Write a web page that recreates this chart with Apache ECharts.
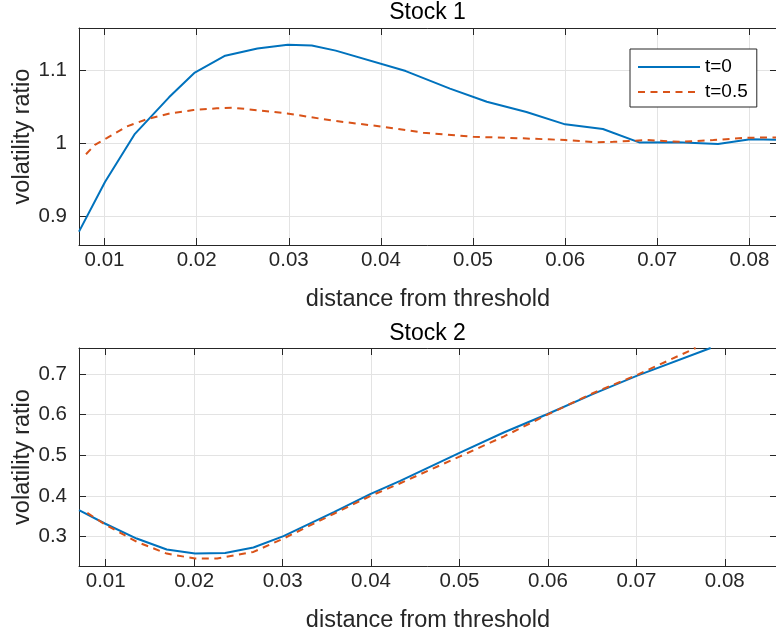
<!DOCTYPE html>
<html>
<head>
<meta charset="utf-8">
<script src="https://cdn.jsdelivr.net/npm/echarts@6/dist/echarts.min.js"></script>
<style>
  html, body { margin: 0; padding: 0; background: #fff; }
  #chart { width: 776px; height: 637px; }
</style>
</head>
<body>
<div id="chart"></div>
<script>
// Stock 1: volatility ratio vs distance from threshold
const s1T0X   = [0.00723, 0.01005, 0.0133, 0.0170, 0.0198, 0.0231, 0.0266, 0.0299, 0.0325, 0.0351,
                 0.0427, 0.0475, 0.0515, 0.0558, 0.0600, 0.0641, 0.0681, 0.0722, 0.0766, 0.0801, 0.0830];
const s1T0Y   = [0.879, 0.947, 1.013, 1.063, 1.097, 1.120, 1.130, 1.135, 1.134, 1.127,
                 1.099, 1.075, 1.057, 1.043, 1.026, 1.0196, 1.001, 1.0014, 0.999, 1.0055, 1.005];
const s1T05X  = [0.00799, 0.00896, 0.01024, 0.01241, 0.01458, 0.01711, 0.01964, 0.02219, 0.02396, 0.02982,
                 0.03482, 0.04025, 0.04459, 0.05002, 0.05545, 0.06001, 0.06349, 0.06523, 0.06892, 0.07251,
                 0.07609, 0.07978, 0.0830];
const s1T05Y  = [0.985, 0.998, 1.007, 1.023, 1.033, 1.041, 1.0456, 1.048, 1.0488, 1.041,
                 1.031, 1.0227, 1.0146, 1.009, 1.0068, 1.0045, 1.0014, 1.002, 1.0045, 1.002,
                 1.0045, 1.0077, 1.008];

// Stock 2
const s2T0X   = [0.00698, 0.0099, 0.0135, 0.0169, 0.0201, 0.0235, 0.0267, 0.0301, 0.0358, 0.0399,
                 0.0433, 0.0500, 0.0550, 0.0599, 0.0650, 0.0701, 0.0784];
const s2T0Y   = [0.365, 0.332, 0.295, 0.268, 0.258, 0.2595, 0.273, 0.301, 0.360, 0.4045,
                 0.437, 0.506, 0.556, 0.601, 0.650, 0.696, 0.764];
const s2T05X  = [0.00792, 0.0099, 0.0135, 0.0169, 0.0201, 0.0226, 0.0267, 0.0301, 0.0358, 0.0399,
                 0.0433, 0.0500, 0.0550, 0.0599, 0.0650, 0.0701, 0.0767];
const s2T05Y  = [0.358, 0.330, 0.287, 0.258, 0.2457, 0.2457, 0.262, 0.295, 0.356, 0.3995,
                 0.431, 0.4966, 0.546, 0.5995, 0.652, 0.698, 0.764];

// Tick labels
const xTicks     = [0.01, 0.02, 0.03, 0.04, 0.05, 0.06, 0.07, 0.08];
const y1Ticks    = [0.9, 1.0, 1.1];
const y2Ticks    = [0.3, 0.4, 0.5, 0.6, 0.7];
const seriesNames = ['t=0', 't=0.5'];
const titles      = ['Stock 1', 'Stock 2'];
const xName = 'distance from threshold';
const yName = 'volatility ratio';

const FONT = '"Liberation Sans", Arial, Helvetica, sans-serif';
const AXIS_COLOR = '#262626';
const GRID_COLOR = '#e3e3e3';
const BLUE = '#0072BD';
const ORANGE = '#D95319';

const zip = (xs, ys) => xs.map((x, i) => [x, ys[i]]);
const fmt = v => String(Number(v.toFixed(4)));

const grids = [
  { left: 79, top: 28, width: 698, height: 217, outerBoundsMode: 'none', containLabel: false },
  { left: 79, top: 348, width: 698, height: 218, outerBoundsMode: 'none', containLabel: false }
];
const xRanges = [[0.00723, 0.0830], [0.00698, 0.0859]];
const yRanges = [[0.8607, 1.158], [0.2274, 0.764]];
const yTickSets = [y1Ticks, y2Ticks];

const xAxes = [], yAxes = [];
grids.forEach((g, i) => {
  const common = {
    gridIndex: i, type: 'value',
    axisLine: { show: true, onZero: false, lineStyle: { color: AXIS_COLOR, width: 1 } },
  };
  xAxes.push(Object.assign({}, common, {
    position: 'bottom', min: xRanges[i][0], max: xRanges[i][1],
    axisTick: { show: true, inside: true, length: 7, customValues: xTicks, lineStyle: { color: AXIS_COLOR } },
    axisLabel: { customValues: xTicks, formatter: fmt, color: AXIS_COLOR, fontSize: 20.5, fontFamily: FONT, margin: 5 },
    splitLine: { show: true, lineStyle: { color: GRID_COLOR, width: 1 } },
    name: xName, nameLocation: 'middle', nameGap: 43,
    nameTextStyle: { color: AXIS_COLOR, fontSize: 23.5, fontFamily: FONT }
  }));
  xAxes.push(Object.assign({}, common, {
    position: 'top', min: xRanges[i][0], max: xRanges[i][1],
    axisTick: { show: true, inside: true, length: 7, customValues: xTicks, lineStyle: { color: AXIS_COLOR } },
    axisLabel: { show: false }, splitLine: { show: false }
  }));
  yAxes.push(Object.assign({}, common, {
    position: 'left', min: yRanges[i][0], max: yRanges[i][1],
    axisTick: { show: true, inside: true, length: 7, customValues: yTickSets[i], lineStyle: { color: AXIS_COLOR } },
    axisLabel: { customValues: yTickSets[i], formatter: fmt, color: AXIS_COLOR, fontSize: 20.5, fontFamily: FONT, margin: 12 },
    splitLine: { show: true, lineStyle: { color: GRID_COLOR, width: 1 } },
    name: yName, nameLocation: 'middle', nameGap: 44, nameRotate: 90, nameMoveOverlap: false,
    nameTextStyle: { color: AXIS_COLOR, fontSize: 23.5, fontFamily: FONT }
  }));
  yAxes.push(Object.assign({}, common, {
    position: 'right', min: yRanges[i][0], max: yRanges[i][1],
    axisTick: { show: true, inside: true, length: 7, customValues: yTickSets[i], lineStyle: { color: AXIS_COLOR } },
    axisLabel: { show: false }, splitLine: { show: false }
  }));
});

function lineSeries(name, data, gridIdx, color, dashed) {
  return {
    name: name, type: 'line', data: data,
    xAxisIndex: gridIdx * 2, yAxisIndex: gridIdx * 2,
    symbol: 'none', showSymbol: false, clip: true, animation: false,
    lineStyle: { color: color, width: 2, type: dashed ? [7, 5.5] : 'solid' },
    itemStyle: { color: color },
    z: dashed ? 3 : 2
  };
}

const series = [
  lineSeries(seriesNames[0], zip(s1T0X, s1T0Y), 0, BLUE, false),
  lineSeries(seriesNames[1], zip(s1T05X, s1T05Y), 0, ORANGE, true),
  lineSeries(seriesNames[0], zip(s2T0X, s2T0Y), 1, BLUE, false),
  lineSeries(seriesNames[1], zip(s2T05X, s2T05Y), 1, ORANGE, true)
];

const titleGraphics = titles.map((t, i) => ({
  type: 'text',
  x: 427.5, y: i === 0 ? 13 : 334,
  style: {
    text: t, fill: '#000', font: '23px ' + FONT,
    align: 'center', verticalAlign: 'middle',
    textAlign: 'center', textVerticalAlign: 'middle'
  }
}));

const chart = echarts.init(document.getElementById('chart'), null, { renderer: 'canvas' });
chart.setOption({
  backgroundColor: '#fff',
  animation: false,
  grid: grids,
  xAxis: xAxes,
  yAxis: yAxes,
  legend: {
    data: seriesNames,
    orient: 'vertical',
    left: 630, top: 49,
    padding: [8, 9, 5, 7],
    itemWidth: 62, itemHeight: 14, itemGap: 5,
    backgroundColor: '#fff',
    borderColor: AXIS_COLOR, borderWidth: 1, borderRadius: 0,
    itemStyle: { opacity: 0 },
    textStyle: { color: '#000', fontSize: 19, fontFamily: FONT, lineHeight: 20 },
    selectedMode: false
  },
  graphic: titleGraphics,
  series: series
});
</script>
</body>
</html>
